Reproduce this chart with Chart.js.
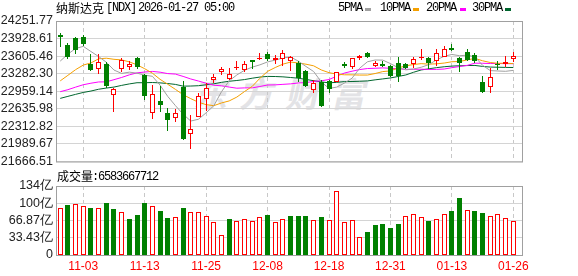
<!DOCTYPE html>
<html><head><meta charset="utf-8">
<script src="https://cdn.jsdelivr.net/npm/chart.js@4"></script>
<style>
html,body{margin:0;padding:0;background:#fff;}
#wrap{position:relative;width:578px;height:276px;overflow:hidden;background:#fff;}
canvas{position:absolute;left:0;}
.t{position:absolute;white-space:nowrap;font-size:12px;line-height:14px;color:#000;}
.cjk{font-family:"Noto Sans CJK SC";}
.mono{font-family:"Liberation Mono";letter-spacing:-1.2px;}
.wm{position:absolute;left:196px;top:68px;font:bold 34px "Noto Sans CJK SC";color:#e3e3e6;letter-spacing:12px;transform:skewX(-12deg);white-space:nowrap;}
.sw{position:absolute;width:6px;height:3px;top:8px;}
</style></head>
<body><div id="wrap">
<div class="wm">东方财富</div>
<canvas id="pc" width="578" height="172" style="top:0"></canvas>
<canvas id="vc" width="578" height="104" style="top:172px"></canvas>
<div class="t cjk" style="left:56px;top:1px">纳斯达克</div>
<div class="t mono" style="left:106px;top:1px">[NDX]</div>
<div class="t mono" style="left:138px;top:1px">2026-01-27 05:00</div>
<div class="t mono" style="left:338px;top:1px">5PMA</div><div class="sw" style="left:365px;background:#a0a0a0"></div>
<div class="t mono" style="left:380px;top:1px">10PMA</div><div class="sw" style="left:413px;background:#f5a000"></div>
<div class="t mono" style="left:426px;top:1px">20PMA</div><div class="sw" style="left:460px;background:#ff00ff"></div>
<div class="t mono" style="left:472px;top:1px">30PMA</div><div class="sw" style="left:505px;background:#00662e"></div>
<div class="t cjk" style="left:57px;top:169px">成交量</div>
<div class="t mono" style="left:92px;top:170px">:6583667712</div>
</div>
<script>
const dates = ['10-29','10-30','10-31','11-03','11-04','11-05','11-06','11-07','11-10','11-11',
'11-12','11-13','11-14','11-17','11-18','11-19','11-20','11-21','11-24','11-25',
'11-26','11-28','12-01','12-02','12-03','12-04','12-05','12-08','12-09','12-10',
'12-11','12-12','12-15','12-16','12-17','12-18','12-19','12-22','12-23','12-24',
'12-26','12-29','12-30','12-31','01-02','01-05','01-06','01-07','01-08','01-09',
'01-12','01-13','01-14','01-15','01-16','01-20','01-21','01-22','01-23','01-26'];
const xTickDates = ['11-03','11-13','11-25','12-08','12-18','12-31','01-13','01-26'];

const openP = [24000,23803,23941,23965,23462,23360,23462,22899,23366,23414,
23570,23264,22564,22780,22564,22463,23043,22169,22493,22816,
23163,23312,23193,23396,23342,23528,23560,23641,23534,23552,
23522,23480,23330,22983,23133,23145,23133,23456,23414,23564,
23659,23432,23462,23420,23474,23462,23462,23564,23564,23522,
23594,23761,23576,23689,23629,23133,23031,23450,23462,23552];
const highP = [24030,23851,23953,23989,23641,23641,23504,23010,23570,23522,
23582,23282,23073,23055,22654,22636,23145,22522,22923,23103,
23282,23414,23384,23522,23522,23534,23659,23689,23629,23713,
23611,23522,23342,23163,23163,23175,23320,23492,23570,23623,
23677,23510,23522,23450,23593,23474,23582,23731,23582,23731,
23791,23821,23594,23731,23671,23241,23390,23522,23611,23689];
const lowP = [23773,23560,23653,23790,23330,23282,23013,22576,23312,23342,
23372,22804,22445,22576,22235,22397,22056,21894,22480,22594,
23103,23264,23175,23342,23312,23372,23534,23522,23462,23432,
23324,23133,23031,22923,22670,22923,23125,23390,23372,23540,
23570,23402,23410,23222,23133,23372,23390,23534,23372,23432,
23582,23701,23312,23522,23480,22935,22935,23342,23402,23504];
const closeP = [23958,23581,23725,23835,23349,23500,23054,23005,23527,23468,
23406,22870,22901,22708,22433,22564,22078,22273,22872,23026,
23215,23366,23276,23414,23454,23505,23578,23546,23576,23654,
23594,23195,23057,23111,22693,23006,23308,23429,23562,23613,
23593,23474,23419,23242,23236,23396,23547,23584,23480,23671,
23734,23710,23472,23530,23515,22954,23225,23436,23501,23601];
const closeBeforeFirst = 23827;

const volume = [90.4,96.9,98.8,95.0,91.1,90.4,100.8,89.1,82.7,69.8,
77.5,100.8,95.0,85.3,71.7,73.6,91.1,82.7,82.7,75.6,
63.3,38.1,69.8,65.2,69.1,65.2,73.0,77.5,64.0,69.1,
75.6,75.6,75.6,67.2,73.6,67.2,123.4,63.3,67.2,34.2,
44.6,58.1,60.1,52.3,60.1,74.9,78.8,73.0,65.9,69.1,
78.8,85.3,110.5,86.6,85.3,81.4,74.9,78.8,71.1,65.84];

const ma5 = [23514,23642,23746,23785,23690,23598,23493,23349,23287,23311,
23292,23255,23234,23071,22864,22695,22537,22411,22444,22563,
22693,22950,23151,23259,23345,23403,23445,23499,23532,23572,
23590,23513,23415,23322,23130,23012,23035,23109,23200,23384,
23501,23534,23532,23468,23393,23353,23368,23401,23449,23536,
23603,23636,23613,23623,23592,23436,23339,23332,23326,23343];
const ma10 = [23150,23252,23356,23441,23480,23556,23567,23547,23536,23500,
23445,23374,23292,23179,23087,22994,22896,22823,22757,22713,
22694,22744,22781,22852,22954,23048,23198,23325,23396,23458,
23496,23479,23457,23427,23351,23301,23274,23262,23261,23257,
23257,23285,23321,23334,23388,23427,23451,23467,23458,23464,
23478,23502,23507,23536,23564,23520,23488,23473,23475,23468];
const ma20 = [22951,22988,23035,23079,23107,23130,23132,23172,23213,23261,
23297,23313,23324,23310,23284,23275,23232,23185,23147,23107,
23070,23059,23036,23015,23021,23021,23047,23074,23077,23086,
23095,23111,23119,23139,23152,23175,23236,23294,23328,23358,
23377,23382,23389,23381,23370,23364,23363,23365,23360,23361,
23368,23393,23414,23435,23476,23474,23469,23470,23467,23466];
const ma30 = [22828,22865,22902,22937,22963,22996,23018,23036,23067,23094,
23116,23116,23120,23113,23101,23085,23053,23055,23061,23078,
23096,23123,23143,23157,23174,23199,23220,23232,23230,23224,
23212,23199,23177,23153,23131,23114,23123,23137,23138,23143,
23149,23169,23186,23204,23231,23259,23308,23351,23372,23393,
23410,23422,23428,23432,23434,23416,23404,23401,23398,23396];

const priceTicks = [21666.51,21989.67,22312.82,22635.98,22959.14,23282.30,23605.46,23928.61,24251.77];
const volTicks = [0,33.435,66.87,100.305,133.74];
const volTickLabels = ['0','33.43亿','66.87亿','100亿','134亿'];

const RED = '#ff0000', GREEN = '#008000';
const N = dates.length;
const idx = dates.map((d, i) => i);
const isUp = idx.map(i => closeP[i] >= openP[i]);
const volUp = idx.map(i => closeP[i] >= (i ? closeP[i - 1] : closeBeforeFirst));
const xTickIdx = xTickDates.map(d => dates.indexOf(d));

const frame = {id: 'frame', afterDraw(c) {
  const a = c.chartArea, g = c.ctx;
  g.save(); g.strokeStyle = '#a0a0a0'; g.lineWidth = 1;
  g.strokeRect(a.left + 0.5, a.top + 0.5, a.right - a.left, a.bottom - a.top);
  g.restore();
}};
// snap bar elements computed by the scales to whole pixels for crisp edges
const snap = {id: 'snap', afterDatasetsUpdate(c) {
  c.getSortedVisibleDatasetMetas().forEach(m => {
    if (m.type !== 'bar') return;
    m.data.forEach(el => {
      el.x = Math.floor(el.x) + 0.5;
      el.y = Math.round(el.y);
      el.base = Math.round(el.base);
      if (el.y === el.base) el.y -= 1;
    });
  });
}};

function xScale(show, h) {
  return {
    type: 'linear', min: -0.55, max: N + 0.13, offset: false,
    afterBuildTicks: s => { s.ticks = xTickIdx.map(v => ({value: v})); },
    afterFit: s => { s.height = h; },
    grid: {color: '#c8c8c8', drawTicks: false, offset: false},
    border: {display: false, dash: [4, 3]},
    ticks: {display: show, color: RED, font: {family: 'Liberation Sans', size: 12}, padding: 4,
      maxRotation: 0, autoSkip: false, callback: v => dates[v]}
  };
}
const yTickFont = {family: 'Liberation Sans', size: 12.5};

function line(data, color) {
  return {type: 'line', data: idx.map(i => ({x: i, y: data[i]})), borderColor: color,
    borderWidth: 1, pointRadius: 0, tension: 0, order: 2};
}

new Chart(document.getElementById('pc'), {
  type: 'bar',
  data: {datasets: [
    {type: 'bar', data: idx.map(i => ({x: i, y: [openP[i], closeP[i]]})),
      backgroundColor: idx.map(i => isUp[i] ? '#ffffff' : GREEN),
      borderColor: idx.map(i => isUp[i] ? RED : GREEN),
      borderWidth: 1, borderSkipped: false, barThickness: 5, minBarLength: 1,
      grouped: false, order: 0, inflateAmount: 0},
    {type: 'bar', data: idx.map(i => ({x: i, y: [lowP[i], highP[i]]})),
      backgroundColor: idx.map(i => isUp[i] ? RED : GREEN),
      borderWidth: 0, barThickness: 1, grouped: false, order: 1, inflateAmount: 0},
    line(ma5, '#a0a0a0'), line(ma10, '#f5a000'), line(ma20, '#ff00ff'), line(ma30, '#00662e')
  ]},
  options: {
    responsive: false, animation: false, devicePixelRatio: 1,
    layout: {autoPadding: false, padding: {top: 21, right: 56, left: 0, bottom: 0}},
    plugins: {legend: {display: false}, tooltip: {enabled: false}},
    scales: {
      x: xScale(false, 7),
      y: {min: priceTicks[0], max: priceTicks[priceTicks.length - 1],
        afterBuildTicks: s => { s.ticks = priceTicks.map(v => ({value: v})); },
        afterFit: s => { s.width = 56; },
        grid: {color: '#d4d4d4', drawTicks: false}, border: {display: false},
        ticks: {color: '#222', font: yTickFont, padding: 3, autoSkip: false, callback: v => v.toFixed(2)}}
    }
  },
  plugins: [snap, frame]
});

new Chart(document.getElementById('vc'), {
  type: 'bar',
  data: {datasets: [
    {data: idx.map(i => ({x: i, y: volume[i]})),
      backgroundColor: idx.map(i => volUp[i] ? '#ffffff' : GREEN),
      borderColor: idx.map(i => volUp[i] ? RED : GREEN),
      borderWidth: 1, borderSkipped: false, barThickness: 5, grouped: false, inflateAmount: 0}
  ]},
  options: {
    responsive: false, animation: false, devicePixelRatio: 1,
    layout: {autoPadding: false, padding: {top: 14, right: 56, left: 0, bottom: 0}},
    plugins: {legend: {display: false}, tooltip: {enabled: false}},
    scales: {
      x: xScale(true, 21),
      y: {min: 0, max: volTicks[volTicks.length - 1],
        afterBuildTicks: s => { s.ticks = volTicks.map(v => ({value: v})); },
        afterFit: s => { s.width = 56; },
        grid: {color: '#d4d4d4', drawTicks: false}, border: {display: false},
        ticks: {color: '#222', font: yTickFont, padding: 3, autoSkip: false,
          callback: (v, i) => volTickLabels[i]}}
    }
  },
  plugins: [snap, frame]
});
</script>
</body></html>
